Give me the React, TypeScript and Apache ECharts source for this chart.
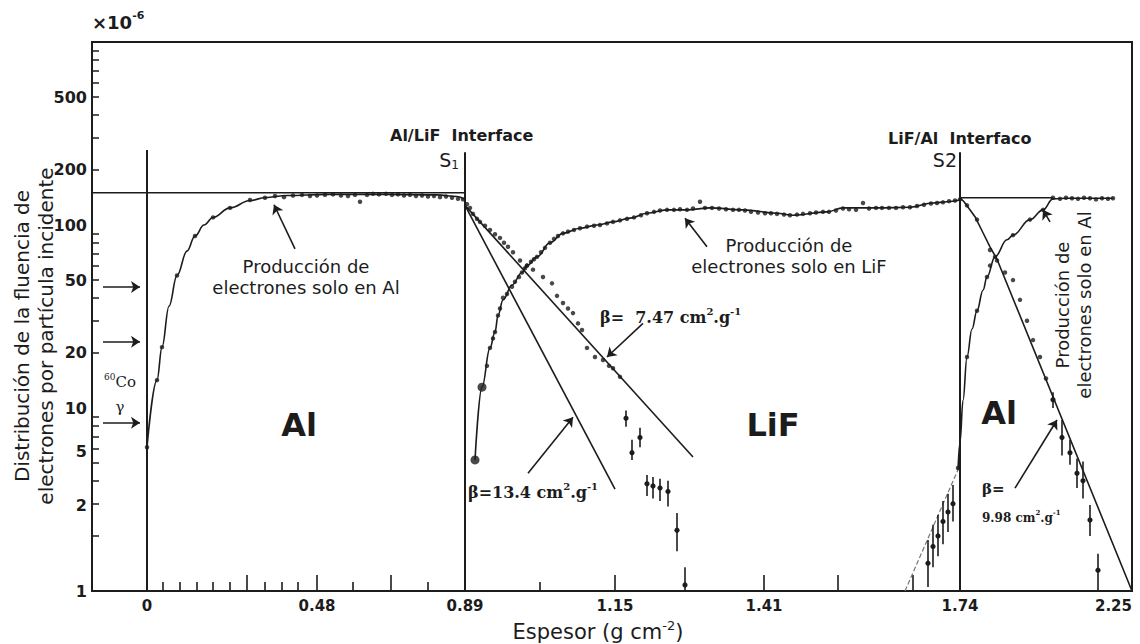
import React, { useEffect, useRef } from 'react';
import * as echarts from 'echarts';

const SANS = "'DejaVu Sans', 'Liberation Sans', Arial, sans-serif";
const SERIF = "'DejaVu Serif', 'Liberation Serif', serif";
const INK = '#1c1c1c';

// ---------- axes ----------
// x: position along the stack (0 = entrance face, S1 = Al/LiF, S2 = LiF/Al)
const xMin = -55;
const xMax = 985;
const xLabelPos = [0, 170, 318, 468, 617, 813, 985];
const xLabelText = ['0', '0.48', '0.89', '1.15', '1.41', '1.74', '2.25'];
const xTickShort = [16, 33, 50, 66, 83, 118, 135, 151, 206, 281, 393];
const xTickTall = [100, 170, 244, 468, 617, 691, 766];

const yMin = 1;
const yMax = 1000;
const yLabelPos = [1, 2.93, 5.8, 10, 20, 50, 100, 200, 500];
const yLabelText = ['1', '2', '5', '10', '20', '50', '100', '200', '500'];
const yTickPos = [2, 3, 4, 5, 6, 7, 8, 9, 20, 30, 40, 50, 60, 70, 80, 90, 200, 300, 400, 500, 600, 700, 800, 900];

const s1 = 318;
const s2 = 813;

// ---------- data ----------
const alCurve = [[0, 6.1], [10, 14.2], [15, 21.5], [22, 36], [30, 53], [40, 72], [48, 87], [57, 100], [66, 110], [83, 124], [103, 136], [118, 141], [140, 145], [180, 147], [240, 147], [290, 146], [310, 143], [318, 138]];
const alDots = [[0, 6.1], [10, 14.2], [15, 21.5], [30, 53], [48, 87], [66, 110], [83, 124], [103, 137], [118, 141], [128, 144], [137, 142], [146, 145], [155, 146], [163, 144], [170, 145], [178, 146], [186, 147], [194, 145], [201, 144], [208, 146], [213, 134], [220, 146], [226, 148], [232, 147], [239, 148], [245, 146], [251, 147], [257, 145], [263, 146], [269, 144], [275, 145], [281, 143], [287, 144], [293, 142], [299, 143], [305, 141], [311, 139], [316, 138]];

const lifCurve = [[328, 5.2], [335, 13], [343, 21.3], [348, 26], [351, 32], [356, 39], [365, 47], [375, 55], [380, 60], [390, 67], [403, 80], [416, 90], [433, 96], [450, 100], [466, 104], [483, 109], [500, 116], [520, 121], [540, 121], [563, 124], [596, 121], [630, 116], [646, 113], [680, 118], [696, 124], [730, 124], [763, 125], [786, 132], [800, 134], [813, 137]];
const lifBigDots = [[328, 5.2], [335, 13]];
const lifDots = [[340, 17], [343, 21.3], [346, 24], [348, 26], [351, 32], [353, 35], [356, 40], [360, 42], [365, 46], [368, 49], [372, 52], [375, 55], [378, 58], [380, 60], [384, 63], [387, 65], [390, 67], [394, 71], [398, 75], [403, 80], [407, 84], [411, 87], [416, 90], [421, 92], [427, 94], [433, 96], [440, 98], [447, 99], [453, 100], [460, 102], [466, 104], [473, 106], [480, 108], [487, 110], [494, 113], [500, 116], [507, 118], [513, 120], [520, 121], [527, 121], [533, 122], [540, 121], [546, 123], [553, 134], [558, 124], [565, 124], [572, 123], [579, 122], [586, 121], [592, 121], [598, 120], [604, 118], [611, 117], [618, 116], [624, 116], [630, 115], [637, 114], [643, 113], [650, 114], [656, 115], [663, 116], [669, 117], [676, 118], [682, 118], [689, 120], [696, 123], [702, 122], [709, 121], [716, 132], [722, 123], [729, 124], [735, 124], [742, 124], [749, 124], [756, 125], [763, 125], [770, 127], [777, 129], [784, 131], [790, 132], [796, 133], [802, 135], [808, 136], [813, 138]];

const alDecayDots = [[320, 130], [323, 124], [326, 115], [330, 108], [333, 104], [338, 99], [343, 94], [348, 89], [353, 85], [357, 80], [361, 76], [366, 71], [373, 64], [380, 60], [386, 57], [396, 52], [405, 48], [410, 41], [416, 37.5], [421, 35], [426, 33], [431, 29], [435, 26.7], [440, 21.3], [448, 19], [456, 18.3], [462, 17], [466, 16.5], [473, 14.8]];
// [x, value, low, high]
const alDecayErr = [[479, 8.8, 7.9, 9.7], [485, 5.7, 5.2, 6.7], [493, 6.9, 6.1, 7.8], [500, 3.85, 3.3, 4.3], [506, 3.75, 3.2, 4.2], [513, 3.65, 3.1, 4.1], [521, 3.5, 2.9, 4.0], [530, 2.15, 1.65, 2.67], [538, 1.08, 1.0, 1.35]];
const beta747 = [[318, 128], [546, 5.4]];
const beta134 = [[318, 128], [468, 3.6]];

const preS2Err = [[781, 1.42, 1.05, 1.9], [786, 1.75, 1.35, 2.3], [791, 2.0, 1.55, 2.6], [796, 2.4, 1.8, 3.1], [801, 2.7, 2.1, 3.4], [806, 3.0, 2.4, 3.8]];
const preS2Line = [[758, 1.0], [811, 4.6]];

const al2Curve = [[811, 4.6], [813, 6.5], [816, 11], [820, 19], [825, 27], [830, 34], [836, 44], [840, 52], [848, 67], [860, 83], [866, 88], [883, 107], [896, 121], [906, 139], [920, 140], [945, 140], [966, 140]];
const al2Dots = [[811, 4.7], [820, 19], [830, 34], [840, 52], [843, 60], [848, 67], [866, 88], [883, 107], [896, 121], [906, 141], [913, 139], [919, 141], [925, 140], [931, 139], [937, 141], [943, 140], [949, 138], [955, 140], [961, 139], [966, 140]];

const lifDecayCurve = [[813, 141], [817, 134], [822, 123], [828, 111], [835, 93], [843, 76], [850, 65], [985, 1.0]];
const lifDecayDots = [[820, 128], [830, 107], [843, 73], [850, 64], [858, 55], [866, 50], [873, 39], [880, 30], [886, 23.5], [893, 19], [899, 14.5]];
const lifDecayErr = [[906, 11.1, 10.0, 12.2], [915, 6.9, 5.5, 8.6], [923, 5.7, 4.9, 6.7], [930, 4.4, 3.65, 5.3], [936, 4.0, 3.2, 5.1], [943, 2.44, 2.0, 2.95], [951, 1.3, 1.0, 1.6]];

// reference lines
const refVertical = [[[0, 1], [0, 257]], [[s1, 1], [s1, 250]], [[s2, 1], [s2, 250]]];
const refHorizontal = [[[xMin, 150], [s1, 150]], [[s2, 141], [906, 141]]];

// annotation arrows [from, to]
const arrows = [
  [[-44, 45.8], [-7, 45.8]],
  [[-44, 23], [-7, 23]],
  [[-44, 8.3], [-7, 8.3]],
  [[148, 74], [127, 129]],
  [[560, 76], [538, 109]],
  [[903, 104], [896, 121]],
  [[496, 29], [460, 19]],
  [[381, 4.4], [426, 8.9]],
  [[868, 3.65], [910, 8.6]],
];

function xLabel(v: number) {
  const i = xLabelPos.findIndex((p) => Math.abs(p - v) < 0.5);
  return i >= 0 ? xLabelText[i] : '';
}
function yLabel(v: number) {
  const i = yLabelPos.findIndex((p) => Math.abs(p - v) / p < 0.01);
  return i >= 0 ? yLabelText[i] : '';
}

const lineBase = {
  type: 'line',
  xAxisIndex: 0,
  yAxisIndex: 0,
  showSymbol: false,
  symbol: 'none',
  silent: true,
};

function curve(data: number[][], smooth: number | boolean, width = 1.6) {
  return { ...lineBase, data, smooth, smoothMonotone: 'x', lineStyle: { color: INK, width }, z: 3 };
}
function dots(data: number[][], size = 4.5) {
  return { type: 'scatter', xAxisIndex: 0, yAxisIndex: 0, data, symbol: 'circle', symbolSize: size, itemStyle: { color: INK }, silent: true, z: 4 };
}
function errBars(data: number[][]) {
  return {
    type: 'custom',
    xAxisIndex: 0,
    yAxisIndex: 0,
    data,
    encode: { x: 0, y: 1 },
    silent: true,
    z: 4,
    renderItem: (_p: any, api: any) => {
      const x = api.value(0);
      const c = api.coord([x, api.value(1)]);
      const a = api.coord([x, api.value(2)]);
      const b = api.coord([x, api.value(3)]);
      return {
        type: 'group',
        children: [
          { type: 'line', shape: { x1: a[0], y1: a[1], x2: b[0], y2: b[1] }, style: { stroke: INK, lineWidth: 1.6 } },
          { type: 'circle', shape: { cx: c[0], cy: c[1], r: 2.6 }, style: { fill: INK } },
        ],
      };
    },
  };
}

function txt(x: number, y: number, text: string, size: number, opts: any = {}) {
  const { rotation, ...style } = opts;
  return {
    type: 'text',
    x,
    y,
    rotation: rotation || 0,
    silent: true,
    z: 10,
    style: {
      text,
      fill: INK,
      fontSize: size,
      fontFamily: SANS,
      align: 'center',
      verticalAlign: 'middle',
      textAlign: 'center',
      textVerticalAlign: 'middle',
      ...style,
    },
  };
}

function betaRich(size: number) {
  return {
    a: { fontSize: size, fontFamily: SERIF, fontWeight: 'bold', fill: INK, lineHeight: size + 6 },
    s: { fontSize: Math.round(size * 0.6), fontFamily: SERIF, fontWeight: 'bold', fill: INK, verticalAlign: 'top', lineHeight: size + 6 },
  };
}

function buildOption() {
  const axisLine = { show: true, onZero: false, lineStyle: { color: INK, width: 2 } };
  return {
    animation: false,
    backgroundColor: '#ffffff',
    grid: {
      left: 92, right: 8, top: 42, bottom: 53,
      containLabel: false, outerBoundsMode: 'none',
      show: true, borderColor: INK, borderWidth: 2, backgroundColor: 'transparent',
    },
    xAxis: [
      {
        type: 'value',
        min: xMin,
        max: xMax,
        position: 'bottom',
        axisLine,
        splitLine: { show: false },
        axisTick: { show: true, inside: true, length: 9, customValues: xTickShort, lineStyle: { color: INK, width: 1.6 } },
        axisLabel: {
          show: true, customValues: xLabelPos, formatter: xLabel, alignMaxLabel: 'right',
          fontSize: 15, fontWeight: 'bold', fontFamily: SANS, color: INK, margin: 7,
        },
      },
      {
        type: 'value',
        min: xMin,
        max: xMax,
        position: 'bottom',
        axisLine: { show: false },
        splitLine: { show: false },
        axisLabel: { show: false },
        axisTick: { show: true, inside: true, length: 16, customValues: xTickTall, lineStyle: { color: INK, width: 1.6 } },
      },
    ],
    yAxis: {
      type: 'log',
      logBase: 10,
      min: yMin,
      max: yMax,
      axisLine,
      splitLine: { show: false },
      minorTick: { show: false },
      axisTick: { show: true, inside: true, length: 7, customValues: yTickPos, lineStyle: { color: INK, width: 1.5 } },
      axisLabel: { show: true, customValues: yLabelPos, formatter: yLabel, fontSize: 16, fontWeight: 'bold', fontFamily: SANS, color: INK, margin: 5 },
    },
    series: [
      ...refVertical.map((d) => curve(d, false, 2)),
      ...refHorizontal.map((d) => curve(d, false, 1.6)),
      curve(alCurve, 0.4),
      dots(alDots),
      curve(lifCurve, 0.4),
      dots(lifDots),
      dots(lifBigDots, 9),
      dots(alDecayDots),
      curve(beta747, false),
      curve(beta134, false),
      errBars(alDecayErr),
      errBars(preS2Err),
      { ...curve(preS2Line, false, 1.2), lineStyle: { color: '#777', width: 1.2, type: 'dashed' } },
      curve(al2Curve, 0.4),
      dots(al2Dots),
      curve(lifDecayCurve, false),
      dots(lifDecayDots),
      errBars(lifDecayErr),
      {
        type: 'lines',
        coordinateSystem: 'cartesian2d',
        xAxisIndex: 0,
        yAxisIndex: 0,
        symbol: ['none', 'arrow'],
        symbolSize: 9,
        silent: true,
        z: 6,
        lineStyle: { color: INK, width: 1.6, opacity: 1, curveness: 0 },
        data: arrows.map((coords) => ({ coords })),
      },
    ],
    graphic: [
      txt(92, 22, '{a|×10}{s|-6}', 18, {
        align: 'left',
        textAlign: 'left',
        rich: {
          a: { fontSize: 18, fontWeight: 'bold', fontFamily: SANS, fill: INK, lineHeight: 24 },
          s: { fontSize: 11, fontWeight: 'bold', fontFamily: SANS, fill: INK, verticalAlign: 'top', lineHeight: 24 },
        },
      }),
      txt(34, 336, 'Distribución de la fluencia de\nelectrones por partícula incidente', 20, { rotation: Math.PI / 2, lineHeight: 24 }),
      txt(598, 632, '{a|Espesor (g cm}{s|-2}{a|)}', 21, {
        rich: {
          a: { fontSize: 21, fontFamily: SANS, fill: INK, lineHeight: 26 },
          s: { fontSize: 13, fontFamily: SANS, fill: INK, verticalAlign: 'top', lineHeight: 26 },
        },
      }),
      txt(390, 135, 'Al/LiF  Interface', 16, { fontWeight: 'bold', align: 'left', textAlign: 'left' }),
      txt(459, 160, '{a|S}{b|1}', 19, {
        align: 'right',
        textAlign: 'right',
        rich: {
          a: { fontSize: 19, fontFamily: SANS, fill: INK, lineHeight: 22 },
          b: { fontSize: 12, fontFamily: SANS, fill: INK, verticalAlign: 'bottom', lineHeight: 22 },
        },
      }),
      txt(888, 138, 'LiF/Al  Interfaco', 16, { fontWeight: 'bold', align: 'left', textAlign: 'left' }),
      txt(957, 160, '{a|S}{a|2}', 19, {
        align: 'right',
        textAlign: 'right',
        rich: { a: { fontSize: 19, fontFamily: SANS, fill: INK, lineHeight: 22 } },
      }),
      txt(306, 277, 'Producción de\nelectrones solo en Al', 18, { lineHeight: 21 }),
      txt(789, 256, 'Producción de\nelectrones solo en LiF', 18, { lineHeight: 21 }),
      txt(1073, 305, 'Producción de\nelectrones solo en Al', 18, { lineHeight: 22, rotation: Math.PI / 2 }),
      txt(600, 317, '{a|β=  7.47 cm}{s|2}{a|.g}{s|-1}', 16, { align: 'left', textAlign: 'left', rich: betaRich(16) }),
      txt(468, 492, '{a|β=13.4 cm}{s|2}{a|.g}{s|-1}', 16, { align: 'left', textAlign: 'left', rich: betaRich(16) }),
      txt(982, 489, 'β=', 15, { align: 'left', textAlign: 'left', fontFamily: SERIF, fontWeight: 'bold' }),
      txt(982, 518, '{a|9.98 cm}{s|2}{a|.g}{s|-1}', 12, { align: 'left', textAlign: 'left', rich: betaRich(12) }),
      txt(120, 382, '{s|60}{a|Co}', 15, {
        rich: {
          a: { fontSize: 15, fontFamily: SERIF, fill: INK, lineHeight: 20 },
          s: { fontSize: 9, fontFamily: SERIF, fill: INK, verticalAlign: 'top', lineHeight: 20 },
        },
      }),
      txt(120, 407, 'γ', 15, { fontFamily: SERIF }),
      txt(299, 425, 'Al', 32, { fontWeight: 'bold' }),
      txt(773, 425, 'LiF', 32, { fontWeight: 'bold' }),
      txt(999, 413, 'Al', 32, { fontWeight: 'bold' }),
    ],
  };
}

export default function App() {
  const ref = useRef<HTMLDivElement>(null);
  useEffect(() => {
    document.body.style.margin = '0';
    const chart = echarts.init(ref.current as HTMLDivElement, null, { renderer: 'svg' });
    chart.setOption(buildOption() as any);
    return () => chart.dispose();
  }, []);
  return <div ref={ref} style={{ width: 1140, height: 644, background: '#fff' }} />;
}
